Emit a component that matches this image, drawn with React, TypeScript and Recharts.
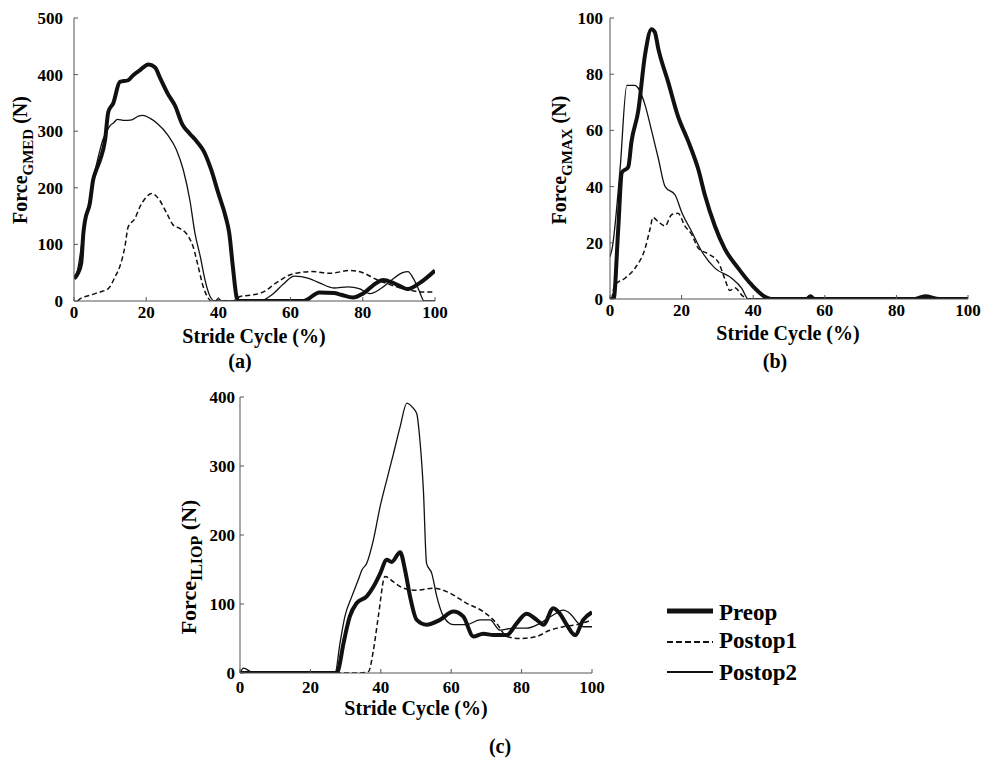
import { LineChart, Line, XAxis, YAxis } from 'recharts';

// stride cycle ticks shared by all three panels
const strideTicks = [0, 20, 40, 60, 80, 100];

// (a) gluteus medius
const gmedTicks = [0, 100, 200, 300, 400, 500];
const gmedPreopX = [0, 1, 2, 2.6, 3, 4.4, 5.3, 6.2, 7.2, 8.6, 9.5, 10.9, 12.7, 15, 16.4, 18.3, 20.6, 22.4, 24, 26, 28, 30, 32, 34, 36, 38, 40, 42, 43, 44, 45, 45.5, 50, 60, 63.5, 68, 72, 74, 77.3, 80, 83.8, 85.6, 88.4, 91, 92.5, 95.8, 100];
const gmedPreopY = [40, 48, 67, 120, 140, 173, 214, 232, 249, 284, 334, 350, 387, 390, 399, 408, 418, 413, 392, 366, 345, 312, 296, 282, 264, 232, 190, 149, 120, 61, 8, 0, 0, 0, 0, 15, 14, 11, 6, 13, 32, 37, 32, 24, 21, 32, 54];
const gmedPostop1X = [1, 1.5, 4.4, 7.2, 9.5, 11.4, 12.7, 14.1, 15, 16.9, 18.3, 19.7, 21.5, 23.4, 25.7, 27.5, 29.4, 31.7, 33, 34.4, 35.8, 37.2, 38, 44, 46, 48.7, 52.5, 56, 60.7, 66, 71, 76.5, 80, 83.8, 87.5, 93, 96.7, 100];
const gmedPostop1Y = [0, 3, 10, 16, 22, 43, 61, 96, 131, 146, 167, 181, 190, 181, 155, 134, 128, 114, 96, 61, 25, 5, 0, 0, 8, 10, 16, 32, 48, 52, 49, 54, 50, 38, 29, 19, 16, 16];
const gmedPostop2X = [0, 1, 2, 3, 4, 5, 6, 7, 8, 9, 10, 11, 12, 14, 16, 18, 19, 21, 23, 26, 28.4, 30.3, 32.1, 33.5, 35, 36.3, 37.7, 39, 40, 41, 45, 51.5, 55, 58, 61, 65, 68, 72, 76, 79, 82, 85, 88, 91, 92.5, 94, 95.5, 97, 100];
const gmedPostop2Y = [42, 55, 95, 140, 165, 210, 235, 262, 285, 299, 310, 315, 321, 319, 320, 327, 328, 323, 314, 293, 267, 231, 178, 120, 78, 37, 8, 0, 4, 0, 0, 0, 12, 30, 44, 40, 32, 23, 25, 22, 13, 22, 37, 50, 52, 40, 20, 0, 0];

// (b) gluteus maximus
const gmaxTicks = [0, 20, 40, 60, 80, 100];
const gmaxPreopX = [0, 1, 2.3, 3.3, 5.1, 6, 7.9, 9.8, 11.6, 12.5, 13.5, 16.3, 19, 21.9, 24.7, 26.5, 29.3, 32, 35.8, 39.6, 43.3, 45, 55, 56, 57, 85, 88, 92, 100];
const gmaxPreopY = [0, 0, 25, 45, 47, 56, 67, 87, 96, 95, 89, 77, 65, 56, 46, 37, 26, 18, 11, 5, 0.8, 0, 0, 1, 0, 0, 1, 0, 0];
const gmaxPostop1X = [0.5, 1.4, 4.2, 7, 9.8, 11.2, 12, 13.5, 15.4, 17.2, 19, 20.9, 22.8, 24.7, 27.5, 30.3, 32, 33.5, 34.9, 36.8, 38.6, 100];
const gmaxPostop1Y = [0, 5, 7.4, 11, 18, 25, 29, 27.5, 26, 30, 30.5, 26, 23, 18, 16, 13, 7.4, 3, 4, 1.4, 0, 0];
const gmaxPostop2X = [0, 0.6, 2.8, 4.7, 7, 7.9, 9.8, 11.6, 13.5, 15.4, 18.2, 20, 22.8, 25.6, 29.3, 34, 36.8, 38.6, 100];
const gmaxPostop2Y = [15, 18, 46, 76, 76, 75, 69, 60, 50, 40, 37, 31, 24, 17, 11, 7.4, 3.8, 0, 0];

// (c) iliopsoas
const iliopTicks = [0, 100, 200, 300, 400];
const iliopPreopX = [0, 27.5, 27.9, 29.4, 31.2, 33.1, 36, 37.9, 39.8, 41.7, 43.1, 45.5, 46.9, 48.3, 50.2, 53, 56.8, 60.6, 63.4, 66.3, 69.1, 72, 75.8, 78.6, 81.4, 84.3, 86.2, 89, 90.9, 92.8, 95.2, 97.5, 100];
const iliopPreopY = [0, 0, 4, 43, 82, 101, 111, 125, 144, 164, 161, 175, 149, 111, 77, 70, 77, 89, 82, 53, 57, 55, 55, 72, 86, 77, 70, 94, 86, 70, 55, 77, 88];
const iliopPostop1X = [0, 34.1, 36.5, 37.9, 39.3, 41.2, 43.6, 46.4, 50.2, 54.9, 58.7, 64.4, 69.1, 72.9, 75.8, 79.5, 84.3, 88, 91.8, 95.6, 100];
const iliopPostop1Y = [0, 0, 2, 33, 82, 140, 132, 123, 120, 123, 118, 101, 89, 72, 53, 50, 53, 62, 67, 70, 77];
const iliopPostop2X = [0, 1, 3, 4, 27, 28.4, 29.8, 31.7, 33.6, 34.6, 36, 37.9, 39.8, 41.7, 43.6, 45.5, 47.4, 48.8, 50.2, 51.1, 52.1, 53, 54.5, 55.9, 57.8, 60.6, 64.4, 68.2, 71, 73.9, 77.6, 81.4, 85.2, 89, 91.8, 93.8, 96.1, 97.5, 100];
const iliopPostop2Y = [0, 7, 2, 0, 0, 43, 82, 110, 135, 149, 159, 193, 241, 280, 318, 357, 391, 386, 376, 338, 265, 159, 144, 111, 82, 70, 70, 77, 77, 62, 65, 65, 72, 84, 91, 86, 72, 67, 67];

const seriesNames = ['Preop', 'Postop1', 'Postop2'];

const toPoints = (xs: number[], ys: number[]) => xs.map((x, i) => ({ x, y: ys[i] }));

const FONT = '"Liberation Serif", "Times New Roman", serif';
const INK = '#111';
const AXIS = '#555';

const lineStyles = [
  { strokeWidth: 4, strokeDasharray: undefined },
  { strokeWidth: 1.5, strokeDasharray: '5 3' },
  { strokeWidth: 1.3, strokeDasharray: undefined },
];

interface PanelProps {
  left: number;
  top: number;
  width: number;
  height: number;
  margin: { top: number; right: number; bottom: number; left: number };
  yWidth: number;
  xHeight: number;
  yTicks: number[];
  sub: string;
  series: { x: number; y: number }[][];
  xTickMargin: number;
  yTickMargin: number;
  xTitle: { x: number; y: number };
  yTitle: { x: number; y: number; size: number; subSize: number };
}

const Panel = (p: PanelProps) => {
  const tickStyle = { fill: '#000', fontSize: 17, fontWeight: 'bold', fontFamily: FONT };
  return (
    <div style={{ position: 'absolute', left: p.left, top: p.top }}>
      <LineChart width={p.width} height={p.height} margin={p.margin}>
        <XAxis
          type="number"
          dataKey="x"
          domain={[0, 100]}
          ticks={strideTicks}
          interval={0}
          height={p.xHeight}
          tick={tickStyle}
          tickSize={-4}
          tickMargin={p.xTickMargin}
          axisLine={{ stroke: AXIS }}
          tickLine={{ stroke: AXIS }}
          allowDataOverflow
          label={() => (
            <text x={p.xTitle.x} y={p.xTitle.y} textAnchor="middle" fontFamily={FONT} fontWeight="bold" fontSize={20} fill="#000">
              Stride Cycle (%)
            </text>
          )}
        />
        <YAxis
          type="number"
          domain={[p.yTicks[0], p.yTicks[p.yTicks.length - 1]]}
          ticks={p.yTicks}
          interval={0}
          width={p.yWidth}
          tick={tickStyle}
          tickSize={-4}
          tickMargin={p.yTickMargin}
          axisLine={{ stroke: AXIS }}
          tickLine={{ stroke: AXIS }}
          allowDataOverflow
          label={() => (
            <text
              x={p.yTitle.x}
              y={p.yTitle.y}
              transform={`rotate(-90 ${p.yTitle.x} ${p.yTitle.y})`}
              textAnchor="middle"
              fontFamily={FONT}
              fontWeight="bold"
              fontSize={p.yTitle.size}
              fill="#000"
            >
              Force
              <tspan fontSize={p.yTitle.subSize} dy={6}>{p.sub}</tspan>
              <tspan dy={-6}> (N)</tspan>
            </text>
          )}
        />
        {p.series.map((data, i) => (
          <Line
            key={seriesNames[i]}
            data={data}
            dataKey="y"
            name={seriesNames[i]}
            type="monotone"
            stroke={INK}
            strokeWidth={lineStyles[i].strokeWidth}
            strokeDasharray={lineStyles[i].strokeDasharray}
            dot={false}
            activeDot={false}
            isAnimationActive={false}
          />
        ))}
      </LineChart>
    </div>
  );
};

const Caption = ({ x, y, text }: { x: number; y: number; text: string }) => (
  <div
    style={{
      position: 'absolute',
      left: x - 30,
      top: y - 12,
      width: 60,
      textAlign: 'center',
      fontFamily: FONT,
      fontWeight: 'bold',
      fontSize: 20,
      lineHeight: '24px',
    }}
  >
    {text}
  </div>
);

const LegendBox = () => {
  const rows = [
    { y: 21, text: 'Preop', base: 30 },
    { y: 52, text: 'Postop1', base: 58 },
    { y: 82, text: 'Postop2', base: 90 },
  ];
  return (
    <svg style={{ position: 'absolute', left: 660, top: 590 }} width={200} height={100}>
      {rows.map((r, i) => (
        <g key={r.text}>
          <line
            x1={7}
            x2={53}
            y1={r.y}
            y2={r.y}
            stroke={INK}
            strokeWidth={i === 0 ? 5 : 2}
            strokeDasharray={i === 1 ? '6 3' : undefined}
          />
          <text x={59} y={r.base} fontFamily={FONT} fontWeight="bold" fontSize={23} fill="#000">
            {r.text}
          </text>
        </g>
      ))}
    </svg>
  );
};

export default function App() {
  return (
    <div style={{ position: 'absolute', left: 0, top: 0, width: 985, height: 760, background: '#fff', overflow: 'hidden', fontFamily: FONT }}>
      <Panel
        left={0}
        top={0}
        width={450}
        height={372}
        margin={{ top: 18, right: 15, bottom: 0, left: 0 }}
        yWidth={74}
        xHeight={71}
        yTicks={gmedTicks}
        sub="GMED"
        series={[toPoints(gmedPreopX, gmedPreopY), toPoints(gmedPostop1X, gmedPostop1Y), toPoints(gmedPostop2X, gmedPostop2Y)]}
        xTickMargin={9}
        yTickMargin={15}
        xTitle={{ x: 254, y: 343 }}
        yTitle={{ x: 27, y: 160, size: 20, subSize: 15 }}
      />
      <Panel
        left={540}
        top={0}
        width={445}
        height={372}
        margin={{ top: 18, right: 17, bottom: 0, left: 0 }}
        yWidth={70}
        xHeight={73}
        yTicks={gmaxTicks}
        sub="GMAX"
        series={[toPoints(gmaxPreopX, gmaxPreopY), toPoints(gmaxPostop1X, gmaxPostop1Y), toPoints(gmaxPostop2X, gmaxPostop2Y)]}
        xTickMargin={9}
        yTickMargin={11}
        xTitle={{ x: 248, y: 340 }}
        yTitle={{ x: 26, y: 160, size: 20, subSize: 15 }}
      />
      <Panel
        left={150}
        top={379}
        width={460}
        height={381}
        margin={{ top: 18, right: 18, bottom: 0, left: 0 }}
        yWidth={90}
        xHeight={87}
        yTicks={iliopTicks}
        sub="ILIOP"
        series={[toPoints(iliopPreopX, iliopPreopY), toPoints(iliopPostop1X, iliopPostop1Y), toPoints(iliopPostop2X, iliopPostop2Y)]}
        xTickMargin={12}
        yTickMargin={9}
        xTitle={{ x: 266, y: 336 }}
        yTitle={{ x: 46, y: 188, size: 22, subSize: 16 }}
      />
      <Caption x={240} y={361} text="(a)" />
      <Caption x={775} y={361} text="(b)" />
      <Caption x={500} y={746} text="(c)" />
      <LegendBox />
    </div>
  );
}
